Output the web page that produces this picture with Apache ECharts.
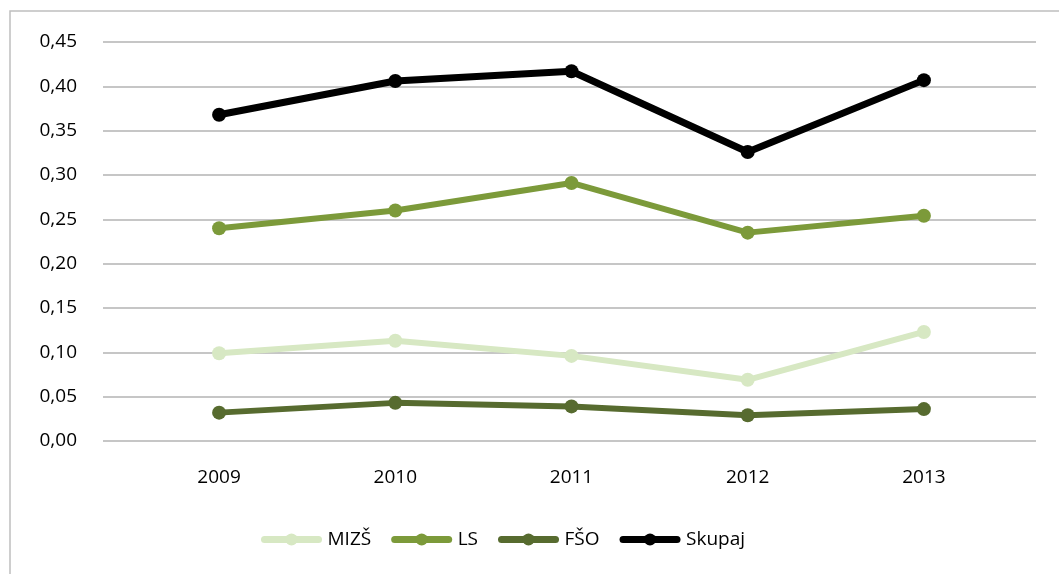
<!DOCTYPE html>
<html>
<head>
<meta charset="utf-8">
<script src="https://cdn.jsdelivr.net/npm/echarts@6/dist/echarts.min.js"></script>
<style>
  html, body { margin: 0; padding: 0; background: #fff; }
  #myChart { width: 1059px; height: 574px; }
</style>
</head>
<body>
<div id="myChart"></div>
<script>
// leta
var years = ["2009", "2010", "2011", "2012", "2013"];
// vrednosti po serijah
var mizs = [0.099, 0.113, 0.096, 0.069, 0.123];
var ls = [0.240, 0.260, 0.291, 0.235, 0.254];
var fso = [0.032, 0.043, 0.039, 0.029, 0.036];
var skupaj = [0.368, 0.406, 0.417, 0.326, 0.407];
// os y
var yMin = 0, yMax = 0.45, yStep = 0.05;

var font = "'Open Sans', sans-serif";
var colors = { "MIZŠ": "#d7e8c3", "LS": "#7c9a3a", "FŠO": "#576b2f", "Skupaj": "#000000" };

function line(name, data, width) {
  return {
    name: name,
    type: "line",
    xAxisIndex: 1,
    yAxisIndex: 1,
    data: data,
    symbol: "circle",
    symbolSize: 14,
    itemStyle: { color: colors[name] },
    lineStyle: { color: colors[name], width: width },
    emphasis: { disabled: true }
  };
}

function legendItem(name) {
  return {
    name: name,
    itemStyle: { color: colors[name] },
    lineStyle: { color: colors[name], width: 7, cap: "round" }
  };
}

var chart = echarts.init(document.getElementById("myChart"));
chart.setOption({
  animation: false,
  textStyle: { fontFamily: font },
  graphic: [{
    type: "rect",
    shape: { x: 10, y: 11, width: 1100, height: 600 },
    style: { fill: "none", stroke: "#bfbfbf", lineWidth: 1.5 },
    silent: true
  }],
  grid: [
    // mreža (vodoravne črte)
    { left: 103, right: 23, top: 42, bottom: 133 },
    // podatki
    { left: 131, right: 47, top: 42, bottom: 133 }
  ],
  legend: {
    bottom: 20,
    left: 256,
    itemWidth: 54,
    itemHeight: 15,
    itemGap: 20,
    textStyle: { fontSize: 19, color: "#000", fontFamily: font, padding: [0, 0, 0, 4] },
    data: ["MIZŠ", "LS", "FŠO", "Skupaj"].map(legendItem)
  },
  xAxis: [
    { type: "value", gridIndex: 0, show: false, min: 0, max: 1 },
    {
      type: "category",
      gridIndex: 1,
      data: years,
      boundaryGap: true,
      axisLine: { show: false },
      axisTick: { show: false },
      axisLabel: { fontSize: 19, color: "#000", margin: 27, fontFamily: font }
    }
  ],
  yAxis: [
    {
      type: "value",
      gridIndex: 0,
      min: yMin,
      max: yMax,
      interval: yStep,
      axisLine: { show: false },
      axisTick: { show: false },
      splitLine: { lineStyle: { color: "#b3b3b3", width: 1.5 } },
      axisLabel: {
        fontSize: 19,
        color: "#000",
        margin: 26,
        fontFamily: font,
        formatter: function (v) { return v.toFixed(2).replace(".", ","); }
      }
    },
    {
      type: "value",
      gridIndex: 1,
      min: yMin,
      max: yMax,
      interval: yStep,
      show: false,
      splitLine: { show: false }
    }
  ],
  series: [
    line("MIZŠ", mizs, 6),
    line("LS", ls, 6),
    line("FŠO", fso, 6),
    line("Skupaj", skupaj, 7)
  ]
});
</script>
</body>
</html>
